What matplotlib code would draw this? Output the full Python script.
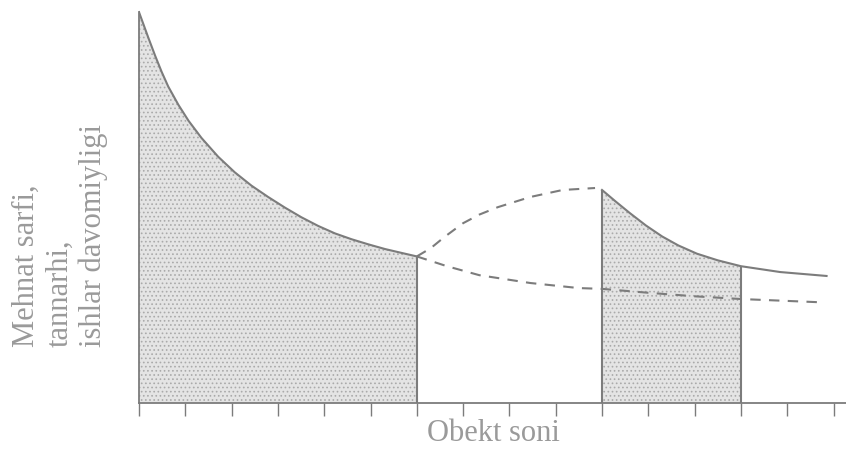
import matplotlib.pyplot as plt

# curve readings (x in objects, y in arbitrary units)
first_x = [0, 0.2, 0.35, 0.49, 0.63, 0.85, 1.07, 1.35, 1.71, 2.07, 2.43, 2.79,
           3.15, 3.51, 3.87, 4.23, 4.59, 4.95, 5.31, 5.67, 6.0]
first_y = [10.0, 9.35, 8.88, 8.47, 8.10, 7.63, 7.22, 6.78, 6.30, 5.90, 5.56, 5.27,
           5.00, 4.75, 4.53, 4.34, 4.19, 4.06, 3.94, 3.84, 3.75]

second_x = [10, 10.3, 10.6, 10.95, 11.3, 11.65, 12.05, 12.5, 13.0, 13.85, 14.85]
second_y = [5.45, 5.15, 4.86, 4.54, 4.26, 4.03, 3.82, 3.65, 3.5, 3.35, 3.25]

upper_x = [6.0, 6.3, 6.6, 7.0, 7.35, 7.75, 8.45, 9.15, 9.85]
upper_y = [3.75, 3.96, 4.25, 4.6, 4.82, 5.01, 5.27, 5.45, 5.5]

lower_x = [6.0, 6.65, 7.35, 8.45, 9.5, 10.0, 11.0, 12.0, 13.0, 14.65]
lower_y = [3.75, 3.5, 3.27, 3.07, 2.94, 2.92, 2.82, 2.73, 2.66, 2.58]

fill_ranges = [(0, 6), (10, 13)]
ticks = list(range(16))

ylabel = 'Mehnat sarfi,\ntannarhi,\nishlar davomiyligi'
xlabel = 'Obekt soni'

line_col = '#7c7c7c'
text_col = '#9a9a9a'
plt.rcParams['hatch.linewidth'] = 0.7

fig = plt.figure(figsize=(8.46, 4.49), dpi=100)
ax = fig.add_axes([139 / 846, 46 / 449, 707 / 846, 403 / 449])

# shaded regions
ax.fill_between(first_x, first_y, 0, facecolor='#e4e4e4', hatch='....',
                edgecolor='#aaaaaa', linewidth=0)
sec_in = [i for i, x in enumerate(second_x) if x <= fill_ranges[1][1]]
ax.fill_between([second_x[i] for i in sec_in], [second_y[i] for i in sec_in], 0,
                facecolor='#e4e4e4', hatch='....', edgecolor='#aaaaaa', linewidth=0)

ax.plot(first_x, first_y, color=line_col, lw=1.5)
ax.plot(second_x, second_y, color=line_col, lw=1.5)
ax.plot(upper_x, upper_y, color=line_col, lw=1.5, ls=(0, (5, 4)))
ax.plot(lower_x, lower_y, color=line_col, lw=1.5, ls=(0, (5, 4)))

# vertical edges of shaded areas
edge_x = [fill_ranges[0][1], fill_ranges[1][0], fill_ranges[1][1]]
edge_top = [first_y[-1], second_y[0], second_y[sec_in[-1]]]
ax.vlines(edge_x, 0, edge_top, color=line_col, lw=1.5)

ax.set_xlim(0, 707 / 46.3)
ax.set_ylim(0, 10.31)
ax.set_xticks(ticks)
ax.set_xticklabels([])
ax.set_yticks([])
ax.tick_params(axis='x', direction='out', length=9.5, width=1, color=line_col)
for s in ['top', 'right']:
    ax.spines[s].set_visible(False)
for s in ['left', 'bottom']:
    ax.spines[s].set_color(line_col)
    ax.spines[s].set_linewidth(1.3)
ax.spines['left'].set_bounds(0, first_y[0])

fig.text(60 / 846, (449 - 347) / 449, ylabel, rotation=90, ha='center', va='bottom',
         multialignment='left', fontsize=22, family='Liberation Serif', color=text_col,
         linespacing=1.2)
fig.text(493 / 846, (449 - 419) / 449, xlabel, ha='center', va='top',
         fontsize=22, family='Liberation Serif', color=text_col)

fig.savefig('out.png', dpi=100)
